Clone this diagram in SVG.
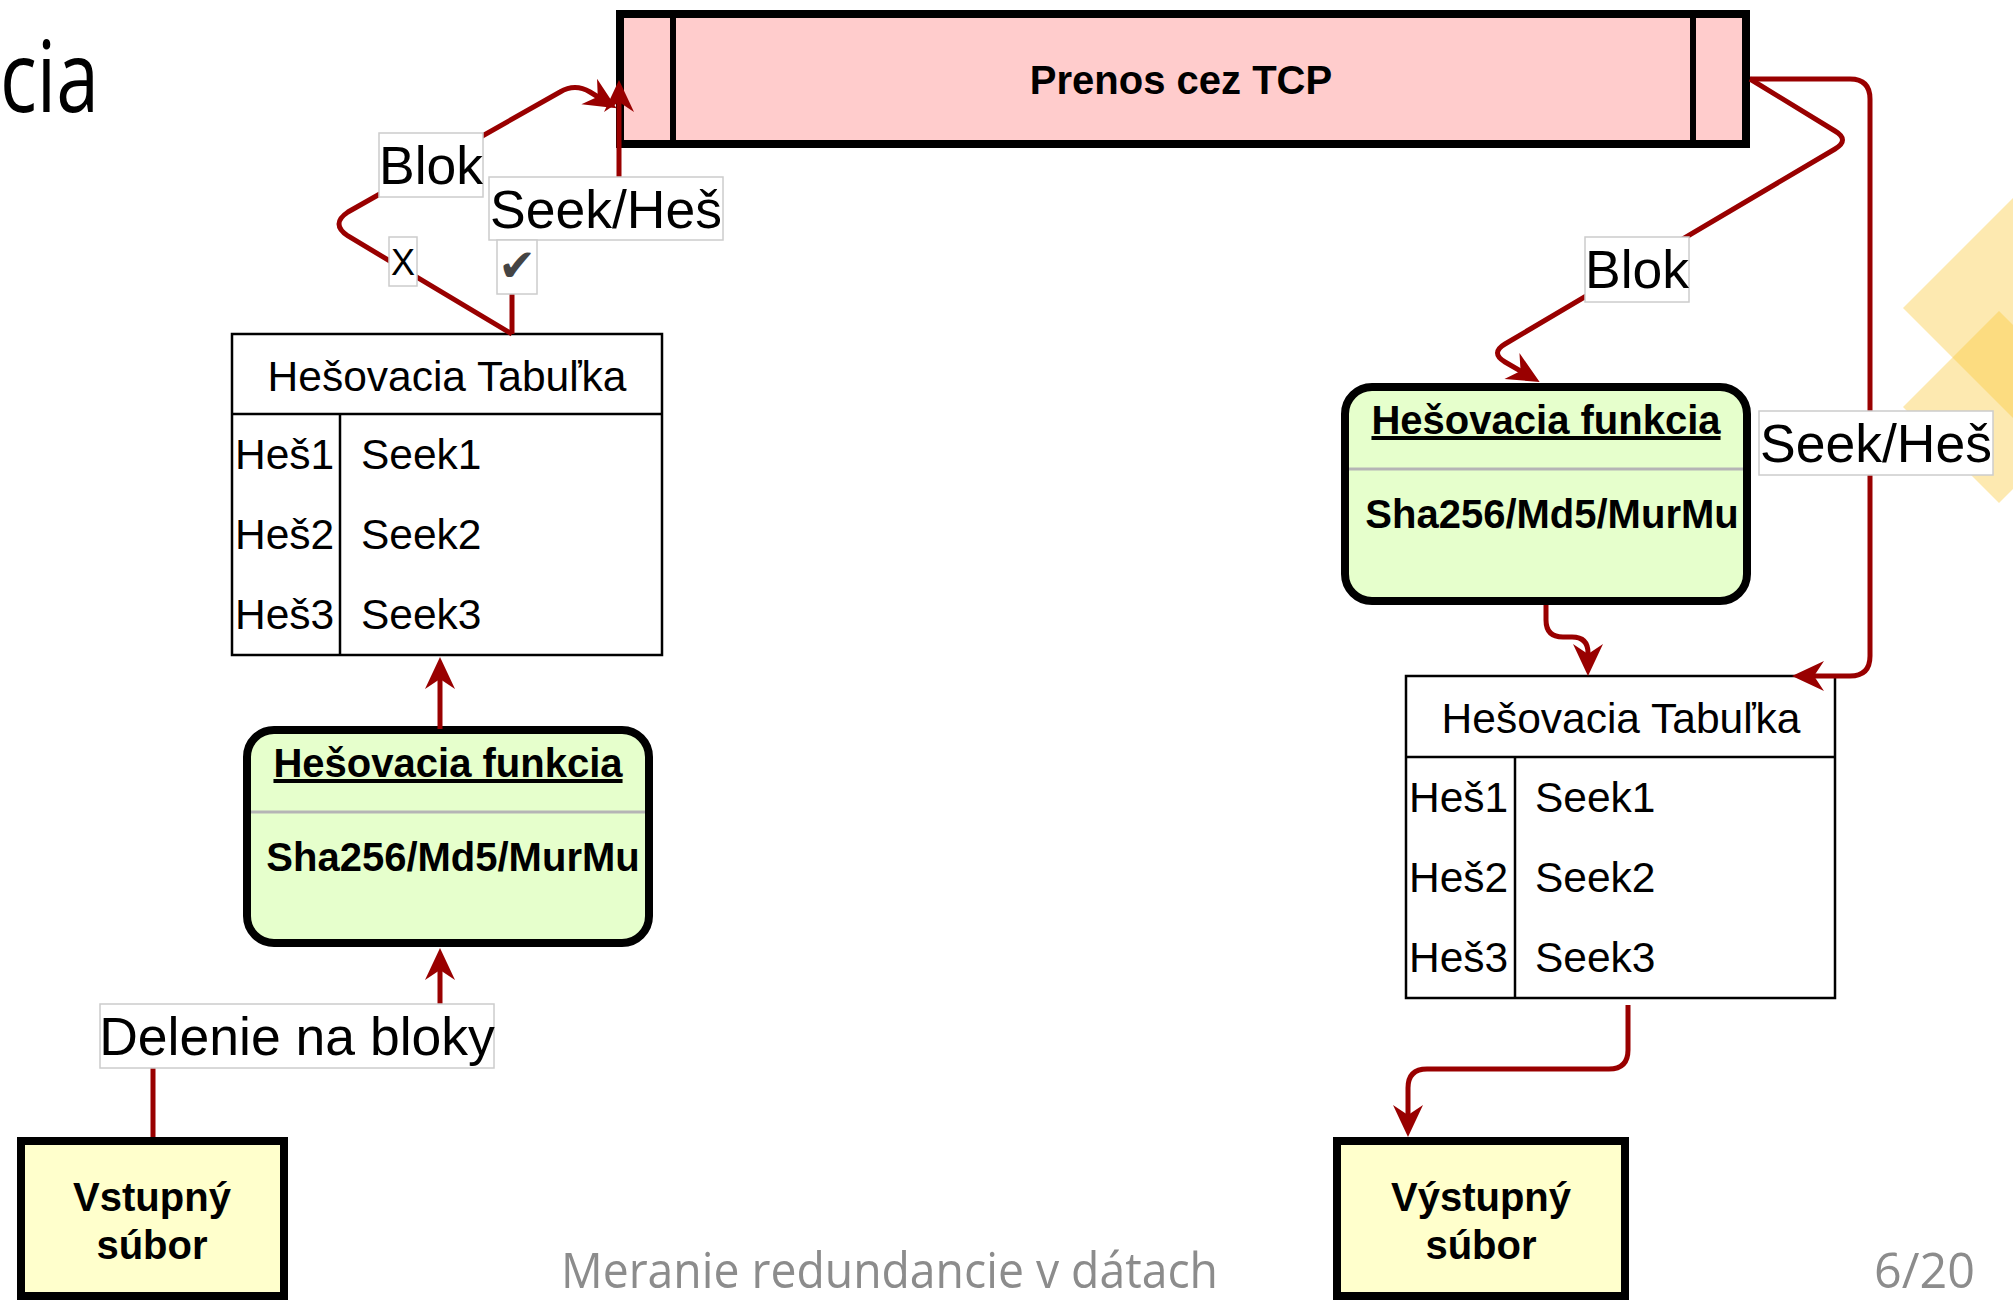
<svg xmlns="http://www.w3.org/2000/svg" width="2013" height="1300" viewBox="0 0 2013 1300">
  <style>
    .sans { font-family: "Liberation Sans", Arial, sans-serif; }
    .slide { font-family: "Open Sans", "Liberation Sans", sans-serif; }
    .thick { stroke: #000; stroke-width: 8; }
    .tbl { fill: #fff; stroke: #000; stroke-width: 2.5; }
    .tline { stroke: #000; stroke-width: 2.5; }
    .ttext { font-size: 42.5px; fill: #000; }
    .bold40 { font-size: 40px; font-weight: bold; fill: #000; text-anchor: middle; }
    .sep { stroke: #b5b5b5; stroke-width: 3; }
    .conn { fill: none; stroke: #990000; stroke-width: 5; }
    .arrow { marker-end: url(#arr); }
    .lblbox { fill: #fff; stroke: #cccccc; stroke-width: 1.5; }
    .lbltext { font-size: 53.5px; fill: #000; text-anchor: middle; }
    .deco { fill: #FAC83A; fill-opacity: 0.4; }
  </style>
  <defs>
    <marker id="arr" markerUnits="userSpaceOnUse" viewBox="-34 -17 36 34" markerWidth="36" markerHeight="34" refX="-10" refY="0" orient="auto">
      <path d="M0,0 L-32,-15 L-22,0 L-32,15 Z" fill="#990000"/>
    </marker>
  </defs>

  <rect width="2013" height="1300" fill="#fff"/>

  <!-- slide decoration -->
  <g id="decoration">
    <polygon class="deco" points="1903,308 2113,98 2323,308 2113,518"/>
    <polygon class="deco" points="1903,407 1999,311 2095,407 1999,503"/>
  </g>

  <!-- slide texts -->
  <g id="slide-text" class="slide">
    <text x="0" y="112" font-size="98" font-weight="400" fill="#000" textLength="99" lengthAdjust="spacingAndGlyphs">cia</text>
    <text x="561" y="1288" font-size="50" fill="#8c8c8c" textLength="657" lengthAdjust="spacingAndGlyphs">Meranie redundancie v dátach</text>
    <text x="1874" y="1288" font-size="50" fill="#8c8c8c" textLength="101" lengthAdjust="spacingAndGlyphs">6/20</text>
  </g>

  <!-- nodes -->
  <g id="tcp" class="sans">
    <rect x="620" y="14" width="1126" height="130" fill="#ffcccc" class="thick"/>
    <line x1="673" y1="14" x2="673" y2="144" stroke="#000" stroke-width="6"/>
    <line x1="1693" y1="14" x2="1693" y2="144" stroke="#000" stroke-width="6"/>
    <text x="1181" y="94" class="bold40">Prenos cez TCP</text>
  </g>

  <g id="table-left" class="sans">
    <rect x="232" y="334" width="430" height="321" class="tbl"/>
    <line x1="232" y1="414" x2="662" y2="414" class="tline"/>
    <line x1="340" y1="414" x2="340" y2="655" class="tline"/>
    <text x="447" y="391" class="ttext" text-anchor="middle">Hešovacia Tabuľka</text>
    <text x="235" y="469" class="ttext">Heš1</text>
    <text x="361" y="469" class="ttext">Seek1</text>
    <text x="235" y="549" class="ttext">Heš2</text>
    <text x="361" y="549" class="ttext">Seek2</text>
    <text x="235" y="629" class="ttext">Heš3</text>
    <text x="361" y="629" class="ttext">Seek3</text>
  </g>

  <g id="hash-left" class="sans">
    <rect x="247" y="730" width="402" height="213" rx="27" ry="27" fill="#e6ffcc" class="thick"/>
    <line x1="251" y1="812" x2="645" y2="812" class="sep"/>
    <text x="448" y="777" class="bold40" text-decoration="underline">Hešovacia funkcia</text>
    <text x="453" y="871" class="bold40">Sha256/Md5/MurMu</text>
  </g>

  <g id="input-file" class="sans">
    <rect x="21" y="1141" width="263" height="155" fill="#ffffcc" class="thick"/>
    <text x="152" y="1211" class="bold40">Vstupný</text>
    <text x="152" y="1259" class="bold40">súbor</text>
  </g>

  <g id="hash-right" class="sans">
    <rect x="1345" y="387" width="402" height="214" rx="27" ry="27" fill="#e6ffcc" class="thick"/>
    <line x1="1349" y1="469" x2="1743" y2="469" class="sep"/>
    <text x="1546" y="434" class="bold40" text-decoration="underline">Hešovacia funkcia</text>
    <text x="1552" y="528" class="bold40">Sha256/Md5/MurMu</text>
  </g>

  <g id="table-right" class="sans">
    <rect x="1406" y="676" width="429" height="322" class="tbl"/>
    <line x1="1406" y1="757" x2="1835" y2="757" class="tline"/>
    <line x1="1515" y1="757" x2="1515" y2="998" class="tline"/>
    <text x="1621" y="733" class="ttext" text-anchor="middle">Hešovacia Tabuľka</text>
    <text x="1409" y="812" class="ttext">Heš1</text>
    <text x="1535" y="812" class="ttext">Seek1</text>
    <text x="1409" y="892" class="ttext">Heš2</text>
    <text x="1535" y="892" class="ttext">Seek2</text>
    <text x="1409" y="972" class="ttext">Heš3</text>
    <text x="1535" y="972" class="ttext">Seek3</text>
  </g>

  <g id="output-file" class="sans">
    <rect x="1337" y="1141" width="288" height="155" fill="#ffffcc" class="thick"/>
    <text x="1481" y="1211" class="bold40">Výstupný</text>
    <text x="1481" y="1259" class="bold40">súbor</text>
  </g>

  <!-- connectors -->
  <g id="connectors" class="sans">
    <!-- left table -> TCP (Seek/Heš) -->
    <path class="conn arrow" d="M512,334 V208 H619 V90"/>
    <!-- left table -> TCP (Blok) -->
    <path class="conn arrow" d="M512,334 L348,236 Q330,224 348,212 L560,92 Q575,83 590,92 L608,103"/>
    <!-- hash left -> table left -->
    <path class="conn arrow" d="M440,729 V667"/>
    <!-- input -> hash left -->
    <path class="conn arrow" d="M153,1137 V1036 H440 V958"/>
    <!-- TCP -> hash right (Blok) -->
    <path class="conn arrow" d="M1750,79 L1835,131 Q1850,140 1835,149 L1505,344 Q1490,353 1505,362 L1531,377"/>
    <!-- TCP -> table right (Seek/Heš) -->
    <path class="conn arrow" d="M1750,79 H1850 Q1870,79 1870,99 V656 Q1870,676 1850,676 H1802"/>
    <!-- hash right -> table right -->
    <path class="conn arrow" d="M1546,605 V620 Q1546,637 1563,637 H1572 Q1588,637 1588,653 V666"/>
    <!-- table right -> output -->
    <path class="conn arrow" d="M1628,1005 V1050 Q1628,1069 1609,1069 H1427 Q1408,1069 1408,1088 V1127"/>

    <!-- labels -->
    <g id="lbl-blok-left">
      <rect x="379" y="133" width="104" height="64" class="lblbox"/>
      <text x="431" y="184" class="lbltext">Blok</text>
    </g>
    <g id="lbl-seek-left">
      <rect x="489" y="177" width="234" height="63" class="lblbox"/>
      <text x="606" y="228" class="lbltext">Seek/Heš</text>
    </g>
    <g id="lbl-check">
      <rect x="497" y="240" width="40" height="54" class="lblbox"/>
      <text x="517" y="281" font-family="'DejaVu Sans', sans-serif" font-size="45" fill="#444" text-anchor="middle">✔</text>
    </g>
    <g id="lbl-x">
      <rect x="389" y="237" width="28" height="49" class="lblbox"/>
      <text x="403" y="275" font-size="36" fill="#000" text-anchor="middle">X</text>
    </g>
    <g id="lbl-blok-right">
      <rect x="1585" y="237" width="104" height="65" class="lblbox"/>
      <text x="1637" y="288" class="lbltext">Blok</text>
    </g>
    <g id="lbl-seek-right">
      <rect x="1759" y="411" width="234" height="64" class="lblbox"/>
      <text x="1876" y="462" class="lbltext">Seek/Heš</text>
    </g>
    <g id="lbl-delenie">
      <rect x="100" y="1004" width="394" height="64" class="lblbox"/>
      <text x="297" y="1055" class="lbltext">Delenie na bloky</text>
    </g>
  </g>
</svg>
